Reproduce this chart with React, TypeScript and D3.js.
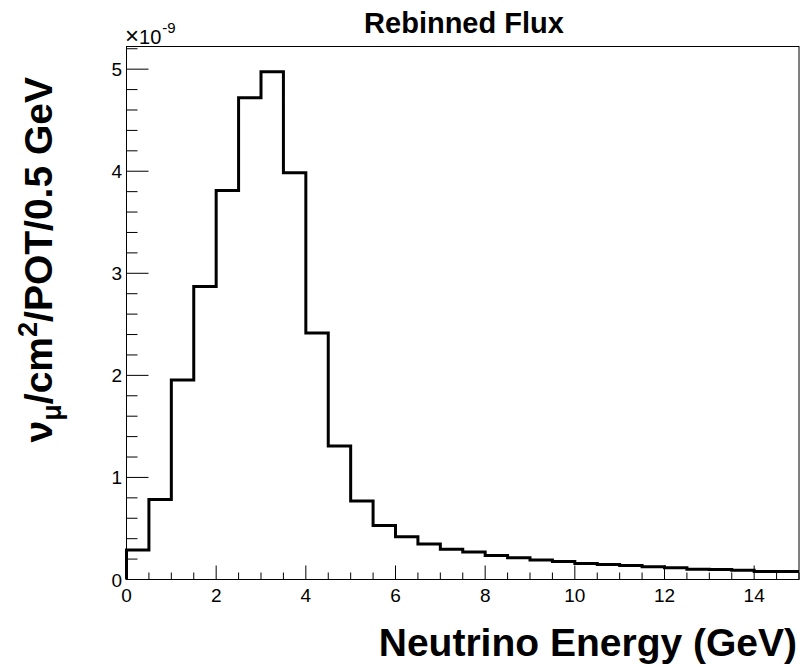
import React from "react";
import * as d3 from "d3";

// Flux per bin, in units of 1e-9 (nu_mu / cm^2 / POT / 0.5 GeV)
const binEdgesStart = 0;
const binWidth = 0.5;
const fluxE9 = [
  0.29, 0.785, 1.955, 2.87, 3.81, 4.72, 4.975, 3.985, 2.415, 1.307,
  0.77, 0.53, 0.418, 0.349, 0.297, 0.27, 0.235, 0.212, 0.19, 0.176,
  0.157, 0.147, 0.137, 0.124, 0.114, 0.101, 0.098, 0.091, 0.078, 0.078,
];
const xTickLabels = [0, 2, 4, 6, 8, 10, 12, 14];
const yTickLabels = [0, 1, 2, 3, 4, 5];
const titleText = "Rebinned Flux";
const xTitle = "Neutrino Energy (GeV)";

const W = 801;
const H = 666;
const L = 126.5;
const R = 799;
const T = 46.5;
const B = 579.5;
const FONT = "'Liberation Sans', Arial, Helvetica, sans-serif";

export default function App() {
  const x = d3.scaleLinear().domain([0, 15]).range([L, R]);
  const y = d3.scaleLinear().domain([0, 5.222]).range([B, T]);

  // histogram step path
  const pts: [number, number][] = [[0, 0]];
  fluxE9.forEach((v, i) => {
    const x0 = binEdgesStart + i * binWidth;
    pts.push([x0, v]);
    pts.push([x0 + binWidth, v]);
  });
  const line = d3
    .line<[number, number]>()
    .x((d) => x(d[0]))
    .y((d) => y(d[1]));
  const path = line(pts) || "";

  const xMinor = d3.range(0, 15.001, 0.5).filter((v) => Math.abs(v % 2) > 1e-6);
  const yMinor = d3.range(0, 5.2001, 0.2).filter((v) => Math.abs(v - Math.round(v)) > 1e-6);

  return (
    <svg width={W} height={H} style={{ position: "absolute", left: 0, top: 0, background: "#fff" }} fontFamily={FONT}>
      <rect x={0} y={0} width={W} height={H} fill="#fff" />
      {/* frame */}
      <rect x={L} y={T} width={R - L} height={B - T} fill="none" stroke="#000" strokeWidth={1} />
      {/* x ticks */}
      {xTickLabels.map((v) => (
        <line key={"xm" + v} x1={x(v)} x2={x(v)} y1={B} y2={B - 14} stroke="#000" strokeWidth={1} />
      ))}
      {xMinor.map((v) => (
        <line key={"xn" + v} x1={x(v)} x2={x(v)} y1={B} y2={B - 7} stroke="#000" strokeWidth={1} />
      ))}
      {/* y ticks */}
      {yTickLabels.map((v) => (
        <line key={"ym" + v} x1={L} x2={L + 22} y1={y(v)} y2={y(v)} stroke="#000" strokeWidth={1} />
      ))}
      {yMinor.map((v) => (
        <line key={"yn" + v} x1={L} x2={L + 11} y1={y(v)} y2={y(v)} stroke="#000" strokeWidth={1} />
      ))}
      {/* histogram */}
      <path d={path} fill="none" stroke="#000" strokeWidth={3} strokeLinejoin="miter" />
      {/* tick labels */}
      {xTickLabels.map((v) => (
        <text key={"xl" + v} x={x(v)} y={602} textAnchor="middle" fontSize={19}>
          {v}
        </text>
      ))}
      {yTickLabels.map((v) => (
        <text key={"yl" + v} x={122} y={y(v) + 7} textAnchor="end" fontSize={19}>
          {v}
        </text>
      ))}
      {/* exponent */}
      <text x={125} y={44} fontSize={20}>
        <tspan fontSize={24}>×</tspan>10
        <tspan dx={1} dy={-11} fontSize={15}>-9</tspan>
      </text>
      {/* title */}
      <text x={464} y={33} textAnchor="middle" fontSize={29} fontWeight="bold">
        {titleText}
      </text>
      {/* x title */}
      <text x={797} y={656} textAnchor="end" fontSize={39} fontWeight="bold">
        {xTitle}
      </text>
      {/* y title */}
      <text transform="translate(52,77) rotate(-90)" textAnchor="end" fontSize={39} fontWeight="bold">
        ν<tspan dy={9} fontSize={27}>μ</tspan>
        <tspan dy={-9}>/cm</tspan>
        <tspan dy={-15} fontSize={27}>2</tspan>
        <tspan dy={15}>/POT/0.5 GeV</tspan>
      </text>
    </svg>
  );
}
